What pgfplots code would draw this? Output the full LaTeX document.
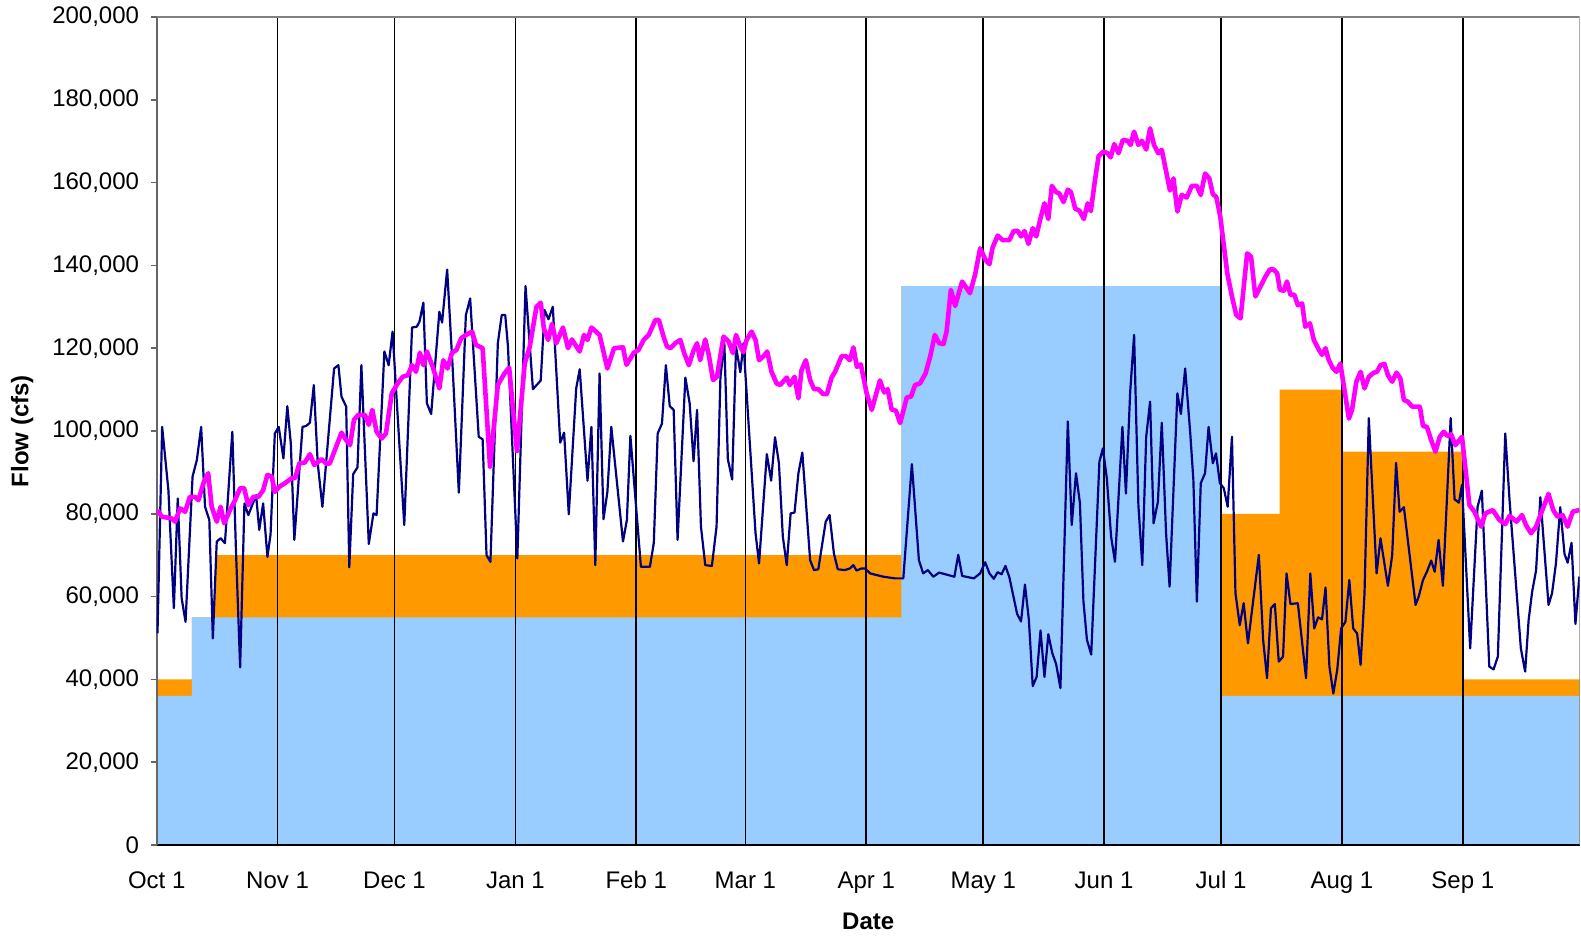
\documentclass[border=0pt]{standalone}
\usepackage{fontspec}
\setmainfont{Liberation Sans}
\usepackage{pgfplots}
\pgfplotsset{compat=1.18}
\definecolor{skyb}{HTML}{99CCFF}
\definecolor{orng}{HTML}{FF9900}
\definecolor{pinkm}{HTML}{FF00FF}
\definecolor{navyb}{HTML}{000080}
\begin{document}
\begin{tikzpicture}
\begin{axis}[
  name=ax,
  set layers,
  width=711.5pt, height=414pt, scale only axis,
  xmin=0, xmax=365, ymin=0, ymax=200000,
  axis x line*=bottom, axis y line*=left,
  x axis line style={black, line width=0.8pt, -},
  y axis line style={black!60, line width=0.8pt, -},
  xtick={0,31,61,92,123,151,182,212,243,273,304,335},
  xticklabels={Oct 1,Nov 1,Dec 1,Jan 1,Feb 1,Mar 1,Apr 1,May 1,Jun 1,Jul 1,Aug 1,Sep 1},
  xmajorgrids, major grid style={black, line width=0.85pt},
  xtick style={draw=none},
  ytick={0,20000,...,200000},
  ytick style={black!60, line width=0.8pt},
  tick align=outside, major tick length=3pt,
  scaled y ticks=false,
  yticklabel style={/pgf/number format/fixed, /pgf/number format/1000 sep={,}, xshift=-2.3pt},
  /pgf/number format/assume math mode=true,
  tick label style={font=\fontsize{12}{14}\selectfont},
  xticklabel style={anchor=base, yshift=-18.5pt},
  xlabel={Date}, ylabel={Flow (cfs)},
  label style={font=\fontsize{12}{14}\selectfont\bfseries},
  xlabel style={at={(axis description cs:0.5,-0.0917)}, anchor=center},
  ylabel style={at={(axis description cs:-0.0945,0.5)}, anchor=center},
]
\addplot[fill=orng, draw=none, on layer=axis background] coordinates {(0,0) (0,40000) (9,40000) (9,55000) (15,55000) (15,70000) (191,70000) (191,135000) (273,135000) (273,80000) (288,80000) (288,110000) (304,110000) (304,95000) (335,95000) (335,40000) (365,40000) (365,0)} \closedcycle;
\addplot[fill=skyb, draw=none, on layer=axis background] coordinates {(0,0) (0,36000) (9,36000) (9,55000) (191,55000) (191,135000) (273,135000) (273,36000) (365,36000) (365,0)} \closedcycle;
\draw[black!50, line width=0.8pt] (rel axis cs:0,1) -- (rel axis cs:1,1) -- (rel axis cs:1,0);
\addplot[navyb, line width=1.1pt, line join=round, mark=none] coordinates {
(0.2,51100) (1.4,101000) (3.0,85700) (4.4,57200) (5.4,83700) (6.4,59600) (7.4,53900) (9.2,89000) (10.3,93000) (11.4,101000) (12.4,81700) (13.5,78500) (14.4,49900) (15.4,73300) (16.4,74100) (17.5,72900) (19.4,99800) (20.3,72100) (21.4,42900) (22.5,82500) (23.5,79700) (25.5,84500) (26.3,76100) (27.3,82500) (28.4,69600) (29.2,75000) (30.3,99400) (31.3,101000) (32.5,93400) (33.5,106000) (34.4,97000) (35.3,73700) (37.4,101000) (38.3,101200) (39.3,102000) (40.3,111100) (41.3,92200) (42.5,81700) (45.5,115100) (46.6,115900) (47.4,108300) (48.6,105900) (49.4,67100) (50.4,89600) (51.5,91200) (52.5,115900) (54.4,72700) (55.6,80100) (56.4,79700) (58.4,119200) (59.5,115900) (60.5,124000) (61.4,109900) (63.5,77300) (65.5,125000) (66.7,125200) (67.4,126400) (68.4,131000) (69.3,106700) (70.4,104100) (72.5,128800) (73.2,126200) (74.5,139000) (75.9,115500) (77.5,85100) (79.3,128000) (80.4,132000) (82.6,98600) (83.6,98000) (84.6,70000) (85.6,68400) (87.5,121200) (88.5,128000) (89.4,128000) (90.1,120400) (92.5,69200) (94.6,135000) (96.5,110100) (98.5,112200) (99.5,129200) (100.5,127000) (101.6,130000) (103.5,97200) (104.5,99600) (105.7,79900) (107.6,110300) (108.5,114900) (110.5,88000) (111.5,101000) (112.5,67600) (113.6,113900) (114.6,78700) (115.6,85300) (116.6,101000) (119.6,73300) (120.6,78500) (121.5,98800) (124.2,67200) (126.5,67200) (127.5,72900) (128.5,99400) (129.6,101800) (130.6,115900) (131.6,106000) (132.6,105100) (133.6,73700) (135.6,112900) (136.7,106700) (137.7,92700) (138.6,105100) (139.6,76900) (140.7,67600) (142.4,67400) (143.6,76900) (144.6,113100) (145.6,121200) (146.5,93200) (147.6,88300) (148.6,120400) (149.7,114200) (150.5,121200) (153.6,75300) (154.5,68000) (156.5,94400) (157.6,88000) (158.6,98500) (159.6,92200) (160.6,74500) (161.6,67600) (162.6,80100) (163.6,80300) (164.6,89800) (165.6,94800) (167.6,68800) (168.6,66400) (169.7,66600) (171.6,78100) (172.6,79700) (173.7,70400) (174.7,66600) (176.5,66400) (177.8,66800) (178.7,67600) (179.5,66300) (180.8,66800) (181.7,66800) (183.0,65600) (186.4,64800) (189.4,64400) (191.5,64400) (193.7,92000) (195.5,68800) (196.6,65600) (197.8,66400) (199.2,64800) (200.7,65800) (204.6,64800) (205.6,70100) (206.6,65000) (209.6,64400) (211.2,65600) (212.5,68300) (213.6,65600) (214.7,64300) (215.7,65900) (216.7,65400) (217.7,67400) (218.7,64700) (219.6,60700) (220.7,55800) (221.7,54000) (222.7,62900) (223.7,54500) (224.7,38400) (225.7,40600) (226.7,51800) (227.7,40600) (228.7,50900) (229.7,46400) (230.7,43700) (231.8,37900) (233.7,102300) (234.7,77300) (235.8,89800) (236.8,82600) (237.7,58900) (238.6,49600) (239.7,46000) (241.8,92600) (242.7,95800) (243.7,88600) (244.8,74500) (245.8,68400) (247.7,101000) (248.6,84900) (249.7,109500) (250.7,123200) (251.8,82100) (252.8,67600) (253.8,98600) (254.8,107100) (255.7,77700) (256.8,82900) (257.8,102000) (258.9,75300) (259.8,62400) (261.8,109100) (262.7,104100) (263.8,115100) (265.1,99500) (265.9,88200) (266.8,58800) (267.8,87400) (268.9,89800) (269.8,101000) (270.9,92200) (271.7,94600) (272.7,87400) (273.7,86200) (274.7,81700) (275.8,98600) (276.7,60800) (277.8,53100) (278.8,58400) (279.9,48700) (282.7,70100) (283.8,49500) (284.8,40300) (285.8,57200) (286.8,58200) (287.8,44300) (288.9,45500) (289.8,65600) (290.8,58200) (292.7,58400) (294.8,40300) (295.9,65600) (296.9,52300) (297.9,55000) (298.9,54500) (299.8,62200) (300.8,43100) (301.8,36600) (302.8,42300) (303.8,52300) (304.9,53900) (305.9,64000) (306.9,52300) (307.9,51100) (308.8,43500) (309.8,60800) (310.9,103100) (312.9,65600) (313.9,74100) (314.9,68000) (315.8,62600) (316.9,70000) (317.9,92300) (318.8,80500) (319.9,81600) (320.9,73700) (322.9,58000) (323.7,60000) (324.8,64000) (325.8,66000) (326.9,68700) (327.8,66000) (328.8,73700) (329.9,62600) (331.9,103100) (332.9,83500) (334.0,82700) (334.8,87000) (336.9,47500) (338.8,81700) (339.9,85600) (341.8,43100) (342.9,42400) (344.0,45500) (345.9,99400) (347.0,83300) (349.9,47500) (351.0,41900) (351.9,54400) (352.8,61200) (353.8,66300) (354.9,84000) (357.0,58000) (357.9,60800) (358.9,68000) (360.0,81600) (361.1,70300) (361.9,68200) (362.9,73000) (363.9,53400) (364.9,64800)
};
\addplot[pinkm, line width=2.3pt, line join=round, mark=none] coordinates {
(0.2,80900) (1.3,79300) (2.6,79100) (3.8,78900) (4.7,78100) (6.0,81300) (7.3,80500) (8.5,84100) (9.8,84100) (10.7,83300) (12.0,87400) (13.2,89800) (14.1,81700) (15.4,78100) (16.4,81700) (17.3,77700) (18.8,80900) (20.1,83300) (21.4,86200) (22.4,86200) (23.5,82100) (24.8,84100) (26.1,84100) (27.3,85700) (28.4,89400) (29.5,89000) (30.3,85300) (31.4,86500) (32.9,87400) (34.6,88600) (35.5,88600) (36.6,92200) (38.0,92400) (39.3,94400) (40.4,91800) (42.3,93200) (43.6,92000) (44.4,92200) (47.4,99600) (48.6,97800) (49.6,96600) (50.6,102700) (51.7,103900) (53.4,103900) (54.4,101500) (55.3,105100) (56.4,99800) (57.7,98200) (58.8,99400) (60.3,109100) (61.8,111500) (63.1,113100) (64.4,113500) (65.5,115900) (66.5,114300) (67.5,118900) (68.4,115900) (69.3,119200) (70.8,115500) (72.5,110300) (73.5,117100) (74.6,115100) (75.7,118800) (76.9,119600) (78.1,122400) (79.3,123200) (80.9,124000) (81.9,120800) (83.6,120000) (85.5,91400) (87.5,111100) (89.2,113900) (90.4,115300) (92.4,95200) (94.4,116300) (95.7,120400) (97.4,130000) (98.5,131000) (99.3,124800) (100.4,122000) (101.4,125900) (102.5,121200) (104.2,125000) (105.5,120000) (106.5,122100) (108.5,119200) (109.6,123200) (110.5,122000) (111.5,125000) (113.6,123200) (115.6,115100) (117.3,120000) (119.6,120200) (120.5,116000) (122.4,118900) (123.6,119600) (124.9,122000) (126.2,123200) (127.9,126800) (128.8,126800) (130.0,122800) (130.9,120400) (131.8,120000) (133.0,121200) (134.3,122000) (135.3,118800) (136.5,115900) (137.6,119200) (138.6,121200) (139.4,117100) (140.7,122100) (141.6,118400) (142.7,112300) (143.7,113100) (145.4,122800) (146.7,121600) (147.8,118800) (148.6,123200) (149.7,120400) (150.5,119000) (151.3,122000) (152.6,124000) (153.6,122000) (154.5,117100) (155.6,118000) (156.6,119200) (157.7,114300) (159.0,111500) (159.9,111100) (161.6,112900) (162.4,111100) (163.6,113100) (164.6,107900) (165.4,114700) (166.5,117100) (167.6,112300) (168.6,110100) (169.7,110100) (171.0,108900) (171.9,108900) (173.1,112900) (174.0,114300) (175.7,118100) (176.7,118100) (177.8,117100) (178.7,120200) (179.6,115500) (180.6,116100) (182.1,109100) (183.4,105100) (185.5,112200) (186.6,109300) (187.5,110100) (188.5,105200) (189.6,104900) (190.7,101900) (192.4,108100) (193.5,108300) (194.5,111100) (195.8,111500) (197.2,113900) (198.4,118000) (199.6,123200) (200.7,121200) (201.8,121000) (202.6,124000) (203.7,134100) (204.8,130200) (206.6,136100) (208.6,133300) (209.9,137700) (211.2,144100) (212.7,141200) (213.6,140300) (214.4,144300) (215.7,147200) (217.0,146100) (218.7,146100) (219.8,148300) (220.9,148300) (221.7,147000) (222.6,148300) (223.6,145200) (224.7,149000) (225.6,147000) (226.7,151400) (227.7,155000) (228.7,151200) (229.6,159200) (230.7,157700) (231.5,157400) (232.6,155300) (233.7,158300) (234.5,157700) (235.6,153700) (236.7,153200) (237.8,151200) (238.8,155000) (239.6,153100) (240.7,160800) (241.6,166400) (242.8,167500) (243.9,167100) (244.7,166100) (245.6,169300) (246.7,167100) (247.8,170300) (249.0,170100) (249.8,169100) (250.7,172300) (251.8,169100) (252.7,170100) (253.8,168000) (254.8,173100) (255.8,169100) (256.9,167100) (257.8,167900) (259.9,158100) (260.8,161000) (261.8,153000) (262.9,157000) (264.2,156400) (265.5,159200) (266.8,159200) (267.8,157000) (268.9,162200) (270.0,161000) (270.9,157200) (271.8,156500) (272.8,151800) (274.6,138100) (275.8,132500) (276.9,128000) (278.0,127200) (279.7,142900) (280.7,142100) (281.8,132500) (283.1,134900) (284.4,137300) (285.5,139000) (286.5,139000) (287.4,138100) (288.1,134100) (289.1,133900) (289.9,136100) (290.8,132900) (291.8,132900) (292.7,130400) (293.8,130800) (294.6,125200) (295.8,126000) (296.8,122000) (298.1,119600) (298.9,118400) (299.8,120000) (300.6,117200) (301.6,115300) (302.6,114300) (303.6,116300) (305.8,103000) (306.6,105100) (307.7,111900) (308.8,114300) (309.8,110300) (310.9,113100) (312.2,114100) (313.0,114300) (313.9,115900) (314.9,116200) (315.8,113500) (316.9,111900) (318.0,114100) (319.0,112700) (319.9,107500) (320.9,107100) (322.0,105900) (324.0,105900) (324.8,101200) (325.8,101000) (326.9,97800) (328.0,95000) (329.1,98600) (330.1,99800) (331.1,98800) (332.0,99200) (333.1,96600) (334.8,98600) (336.7,82100) (338.0,80500) (339.7,76900) (340.8,80100) (342.7,80900) (344.4,78500) (345.9,77500) (347.0,79500) (348.8,78100) (350.2,79700) (351.2,77300) (352.5,75300) (353.8,76900) (355.1,80100) (357.0,84800) (358.2,80900) (359.3,79300) (360.6,79700) (361.9,76900) (363.2,80500) (364.9,80900)
};
\end{axis}
\pgfresetboundingbox
\path[use as bounding box] ([xshift=-78.35pt,yshift=-46pt]ax.south west) rectangle ([xshift=0.65pt,yshift=8.5pt]ax.north east);
\end{tikzpicture}
\end{document}
